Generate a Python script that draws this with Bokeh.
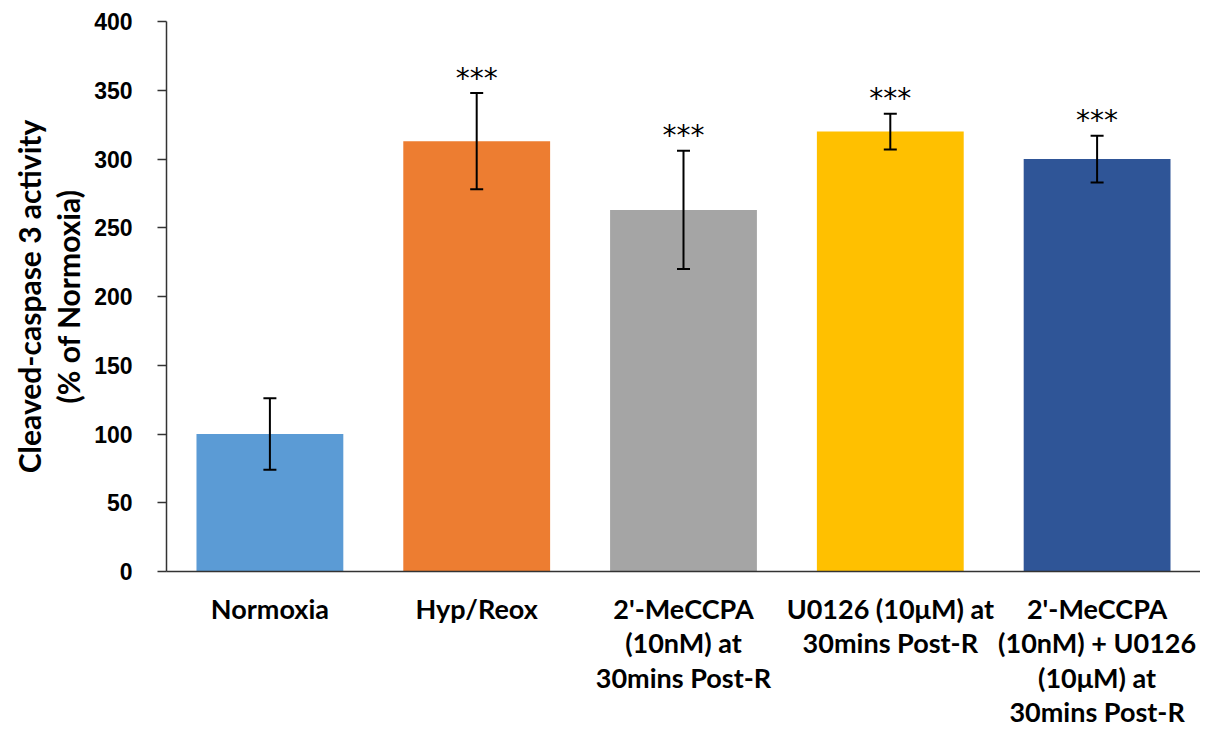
from bokeh.plotting import figure
from bokeh.models import ColumnDataSource, FactorRange, Range1d, FixedTicker, Whisker, TeeHead
from bokeh.core.properties import value
from bokeh.embed import file_html
from bokeh.resources import INLINE

categories = ["Normoxia", "Hyp/Reox", "2'-MeCCPA\n(10nM) at\n30mins Post-R",
              "U0126 (10\u03bcM) at\n30mins Post-R",
              "2'-MeCCPA\n(10nM) + U0126\n(10\u03bcM) at\n30mins Post-R"]
means = [100, 313, 263, 320, 300]
errors = [26, 35, 43, 13, 17]
stars = ["", "***", "***", "***", "***"]
colors = ["#5B9BD5", "#ED7D31", "#A5A5A5", "#FFC000", "#2F5597"]
yticks = [0, 50, 100, 150, 200, 250, 300, 350, 400]

src = ColumnDataSource(dict(
    cat=categories, mean=means, color=colors, stars=stars,
    upper=[m + e for m, e in zip(means, errors)],
    lower=[m - e for m, e in zip(means, errors)],
))

p = figure(x_range=FactorRange(*categories), y_range=Range1d(0, 400),
           width=1200, height=731, output_backend="svg", toolbar_location=None,
           min_border_left=166, min_border_right=0, min_border_top=21, min_border_bottom=160)
p.outline_line_color = None
p.grid.grid_line_color = None
p.background_fill_color = "white"
p.border_fill_color = "white"

p.vbar(x="cat", top="mean", width=0.71, color="color", line_color=None, source=src)
w = Whisker(source=src, base="cat", upper="upper", lower="lower",
            line_color="black", line_width=2, level="overlay",
            upper_head=TeeHead(size=13, line_color="black", line_width=2),
            lower_head=TeeHead(size=13, line_color="black", line_width=2))
p.add_layout(w)

p.text(x="cat", y="upper", text="stars", source=src, text_align="center",
       text_baseline="alphabetic", y_offset=-15, text_font=value("DejaVu Sans"),
       text_font_size="28px", text_color="black")

ya = p.yaxis[0]
ya.ticker = FixedTicker(ticks=yticks)
ya.major_tick_out = 9
ya.major_tick_in = 0
ya.minor_tick_line_color = None
ya.axis_line_color = "#333333"
ya.axis_line_width = 1.5
ya.major_tick_line_color = "#333333"
ya.major_tick_line_width = 1.5
ya.major_label_text_font = "Liberation Sans"
ya.major_label_text_font_style = "bold"
ya.major_label_text_font_size = "23px"
ya.major_label_text_color = "black"
ya.major_label_standoff = 25
ya.axis_label = "Cleaved-caspase 3 activity\n(% of Normoxia)"
ya.axis_label_text_font = "Lato"
ya.axis_label_text_font_style = "bold"
ya.axis_label_text_font_size = "30px"
ya.axis_label_text_line_height = 1.1
ya.axis_label_text_color = "black"
ya.axis_label_standoff = 5

xa = p.xaxis[0]
xa.major_tick_line_color = None
xa.major_tick_out = 0
xa.axis_line_color = "#333333"
xa.axis_line_width = 1.5
xa.major_label_text_font = "Lato"
xa.major_label_text_font_style = "bold"
xa.major_label_text_font_size = "27px"
xa.major_label_text_line_height = 1.05
xa.major_label_text_color = "black"
xa.major_label_standoff = 20

open("out.html", "w").write(file_html(p, INLINE))
